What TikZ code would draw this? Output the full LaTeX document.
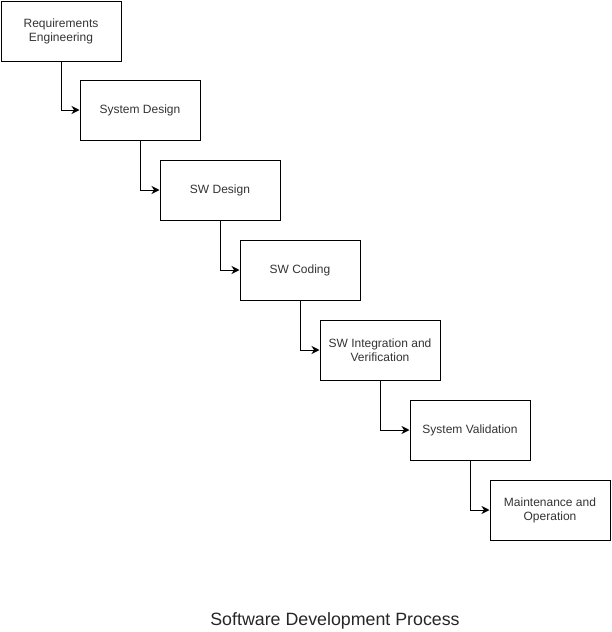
\documentclass[tikz,border=0pt]{standalone}
\usepackage{fontspec}
\setmainfont{Liberation Sans}
\usetikzlibrary{arrows.meta,positioning}

\tikzset{
  phase/.style={draw, line width=1pt, minimum width=120pt, minimum height=60pt,
    inner sep=2pt, align=center, font=\fontsize{12}{14}\selectfont, text=black!80},
  flow/.style={line width=1pt, -{Stealth[length=8pt,width=8pt,inset=2.5pt]}}
}

\begin{document}
\begin{tikzpicture}[x=1pt, y=-1pt]
  \useasboundingbox (0,0) rectangle (612,632);
  % Phases of the waterfall
  \node[phase] (req)  at (61,31)   {Requirements\\Engineering};
  \node[phase] (sysd) at (140,110) {System Design};
  \node[phase] (swd)  at (220,190) {SW Design};
  \node[phase] (code) at (300,270) {SW Coding};
  \node[phase] (intg) at (380,350) {SW Integration and\\Verification};
  \node[phase] (val)  at (470,430) {System Validation};
  \node[phase] (mnt)  at (550,510) {Maintenance and\\Operation};
  % Steps down
  \draw[flow] (req.south)  |- (sysd.west);
  \draw[flow] (sysd.south) |- (swd.west);
  \draw[flow] (swd.south)  |- (code.west);
  \draw[flow] (code.south) |- (intg.west);
  \draw[flow] (intg.south) |- (val.west);
  \draw[flow] (val.south)  |- (mnt.west);
  % Caption
  \node[font=\fontsize{17.8}{21}\selectfont, text=black!85] (title) at (335,621)
    {Software Development Process};
\end{tikzpicture}
\end{document}
